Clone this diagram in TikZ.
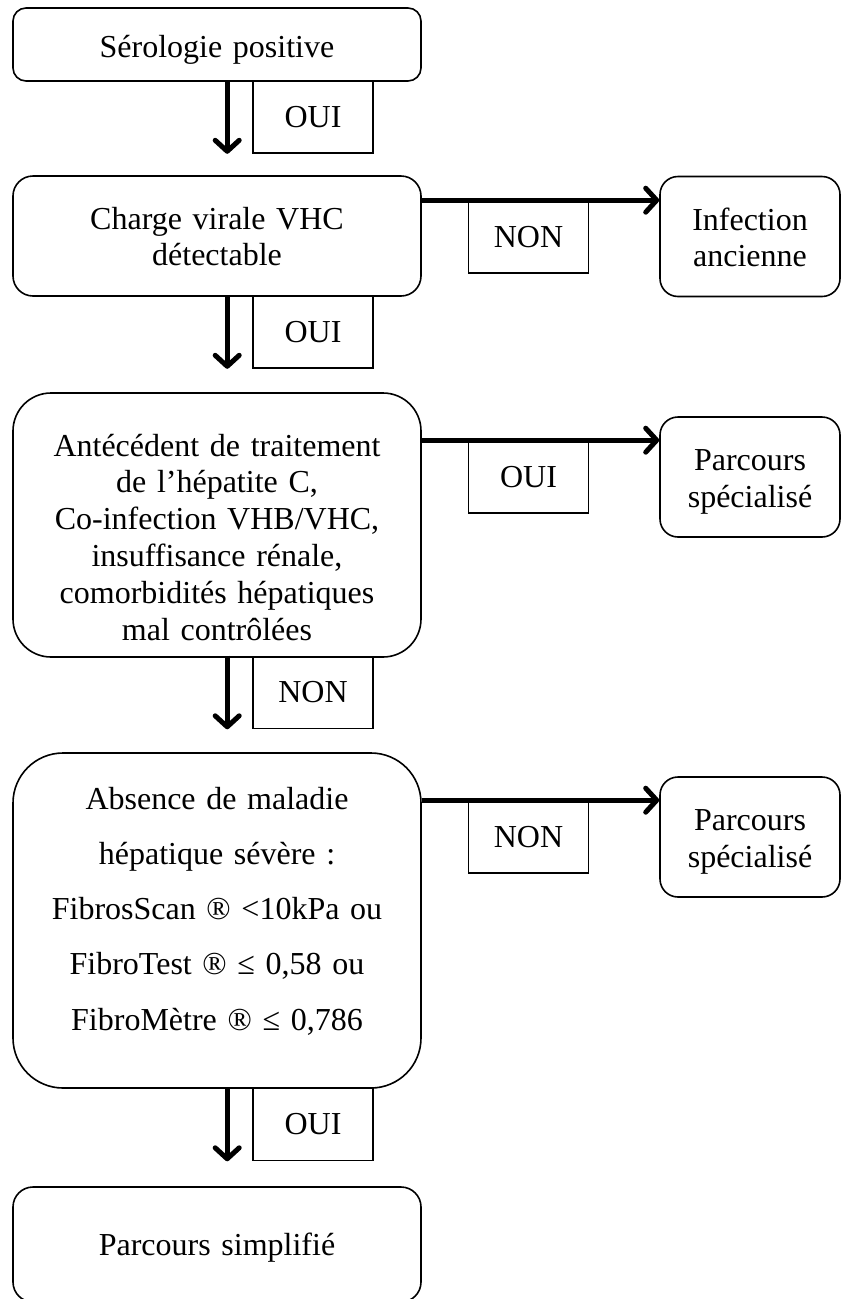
\documentclass[tikz,border=0pt]{standalone}
\usepackage{fontspec}
\setmainfont{Liberation Serif}
\usetikzlibrary{arrows.meta}
\newcommand\txtfont{\fontsize{32}{36.8}\selectfont}
\newcommand\widefont{\fontsize{32}{55.3}\selectfont}
\begin{document}
\begin{tikzpicture}[x=1pt,y=-1pt,
  box/.style={draw,line width=1.6pt,minimum width=408pt,inner sep=0pt},
  side/.style={draw,line width=1.6pt,minimum width=180pt,minimum height=120pt,rounded corners=18pt,inner sep=0pt},
  lab/.style={draw,line width=1.6pt,minimum width=120pt,minimum height=72pt,inner sep=0pt,font=\txtfont},
  arr/.style={line width=5pt,-{Straight Barb[length=11pt,width=24pt,line width=0pt 1,round]}},
  txt/.style={font=\txtfont,align=center,anchor=base,inner sep=0pt}]
\useasboundingbox (0,0) rectangle (841,1299);
% main boxes
\node[box,minimum height=73pt,rounded corners=13pt] (b1) at (217,44.5) {};
\node[box,minimum height=120pt,rounded corners=20pt] (b2) at (217,236) {};
\node[box,minimum height=264pt,rounded corners=38pt] (b3) at (217,525) {};
\node[box,minimum height=335pt,rounded corners=50pt] (b4) at (217,920.5) {};
\node[box,minimum height=115pt,rounded corners=20pt] (b5) at (217,1244.5) {};
% side boxes
\node[side] (inf) at (750,236.5) {};
\node[side] (ps1) at (750,477) {};
\node[side] (ps2) at (750,837) {};
% texts
\node[txt,text width=400pt] (t1) at (217,57) {Sérologie positive};
\node[txt,text width=400pt] (t2) at (217,229) {Charge virale VHC\\détectable};
\node[txt,text width=400pt] (t3) at (217,456) {Antécédent de traitement\\de l’hépatite C,\\Co-infection VHB/VHC,\\insuffisance rénale,\\comorbidités hépatiques\\mal contrôlées};
\node[txt,text width=400pt,font=\widefont] (t4) at (217,809) {Absence de maladie\\hépatique sévère :\\FibrosScan ® <10kPa ou\\FibroTest ® ≤ 0,58 ou\\FibroMètre ® ≤ 0,786};
\node[txt,text width=400pt] (t5) at (217,1255) {Parcours simplifié};
\node[txt,text width=176pt] (ti) at (750,230) {Infection\\ancienne};
\node[txt,text width=176pt] (tp1) at (750,470.5) {Parcours\\spécialisé};
\node[txt,text width=176pt] (tp2) at (750,830.5) {Parcours\\spécialisé};
% label boxes
\node[lab] (l1) at (313,117) {OUI};
\node[lab] (l2) at (313,332) {OUI};
\node[lab] (l3) at (313,692.5) {NON};
\node[lab] (l4) at (313,1124.5) {OUI};
\node[lab] (h1) at (528.5,237) {NON};
\node[lab] (h2) at (528.5,477) {OUI};
\node[lab] (h3) at (528.5,837) {NON};
% connectors
\draw[arr] ([xshift=-25pt]l1.north west) -- ([xshift=-25pt]l1.south west);
\draw[arr] ([xshift=-25pt]l2.north west) -- ([xshift=-25pt]l2.south west);
\draw[arr] ([xshift=-25pt]l3.north west) -- ([xshift=-25pt]l3.south west);
\draw[arr] ([xshift=-25pt]l4.north west) -- ([xshift=-25pt]l4.south west);
\draw[arr] (b2.east |- h1.north) -- (inf.west |- h1.north);
\draw[arr] (b3.east |- h2.north) -- (ps1.west |- h2.north);
\draw[arr] (b4.east |- h3.north) -- (ps2.west |- h3.north);
\end{tikzpicture}
\end{document}
